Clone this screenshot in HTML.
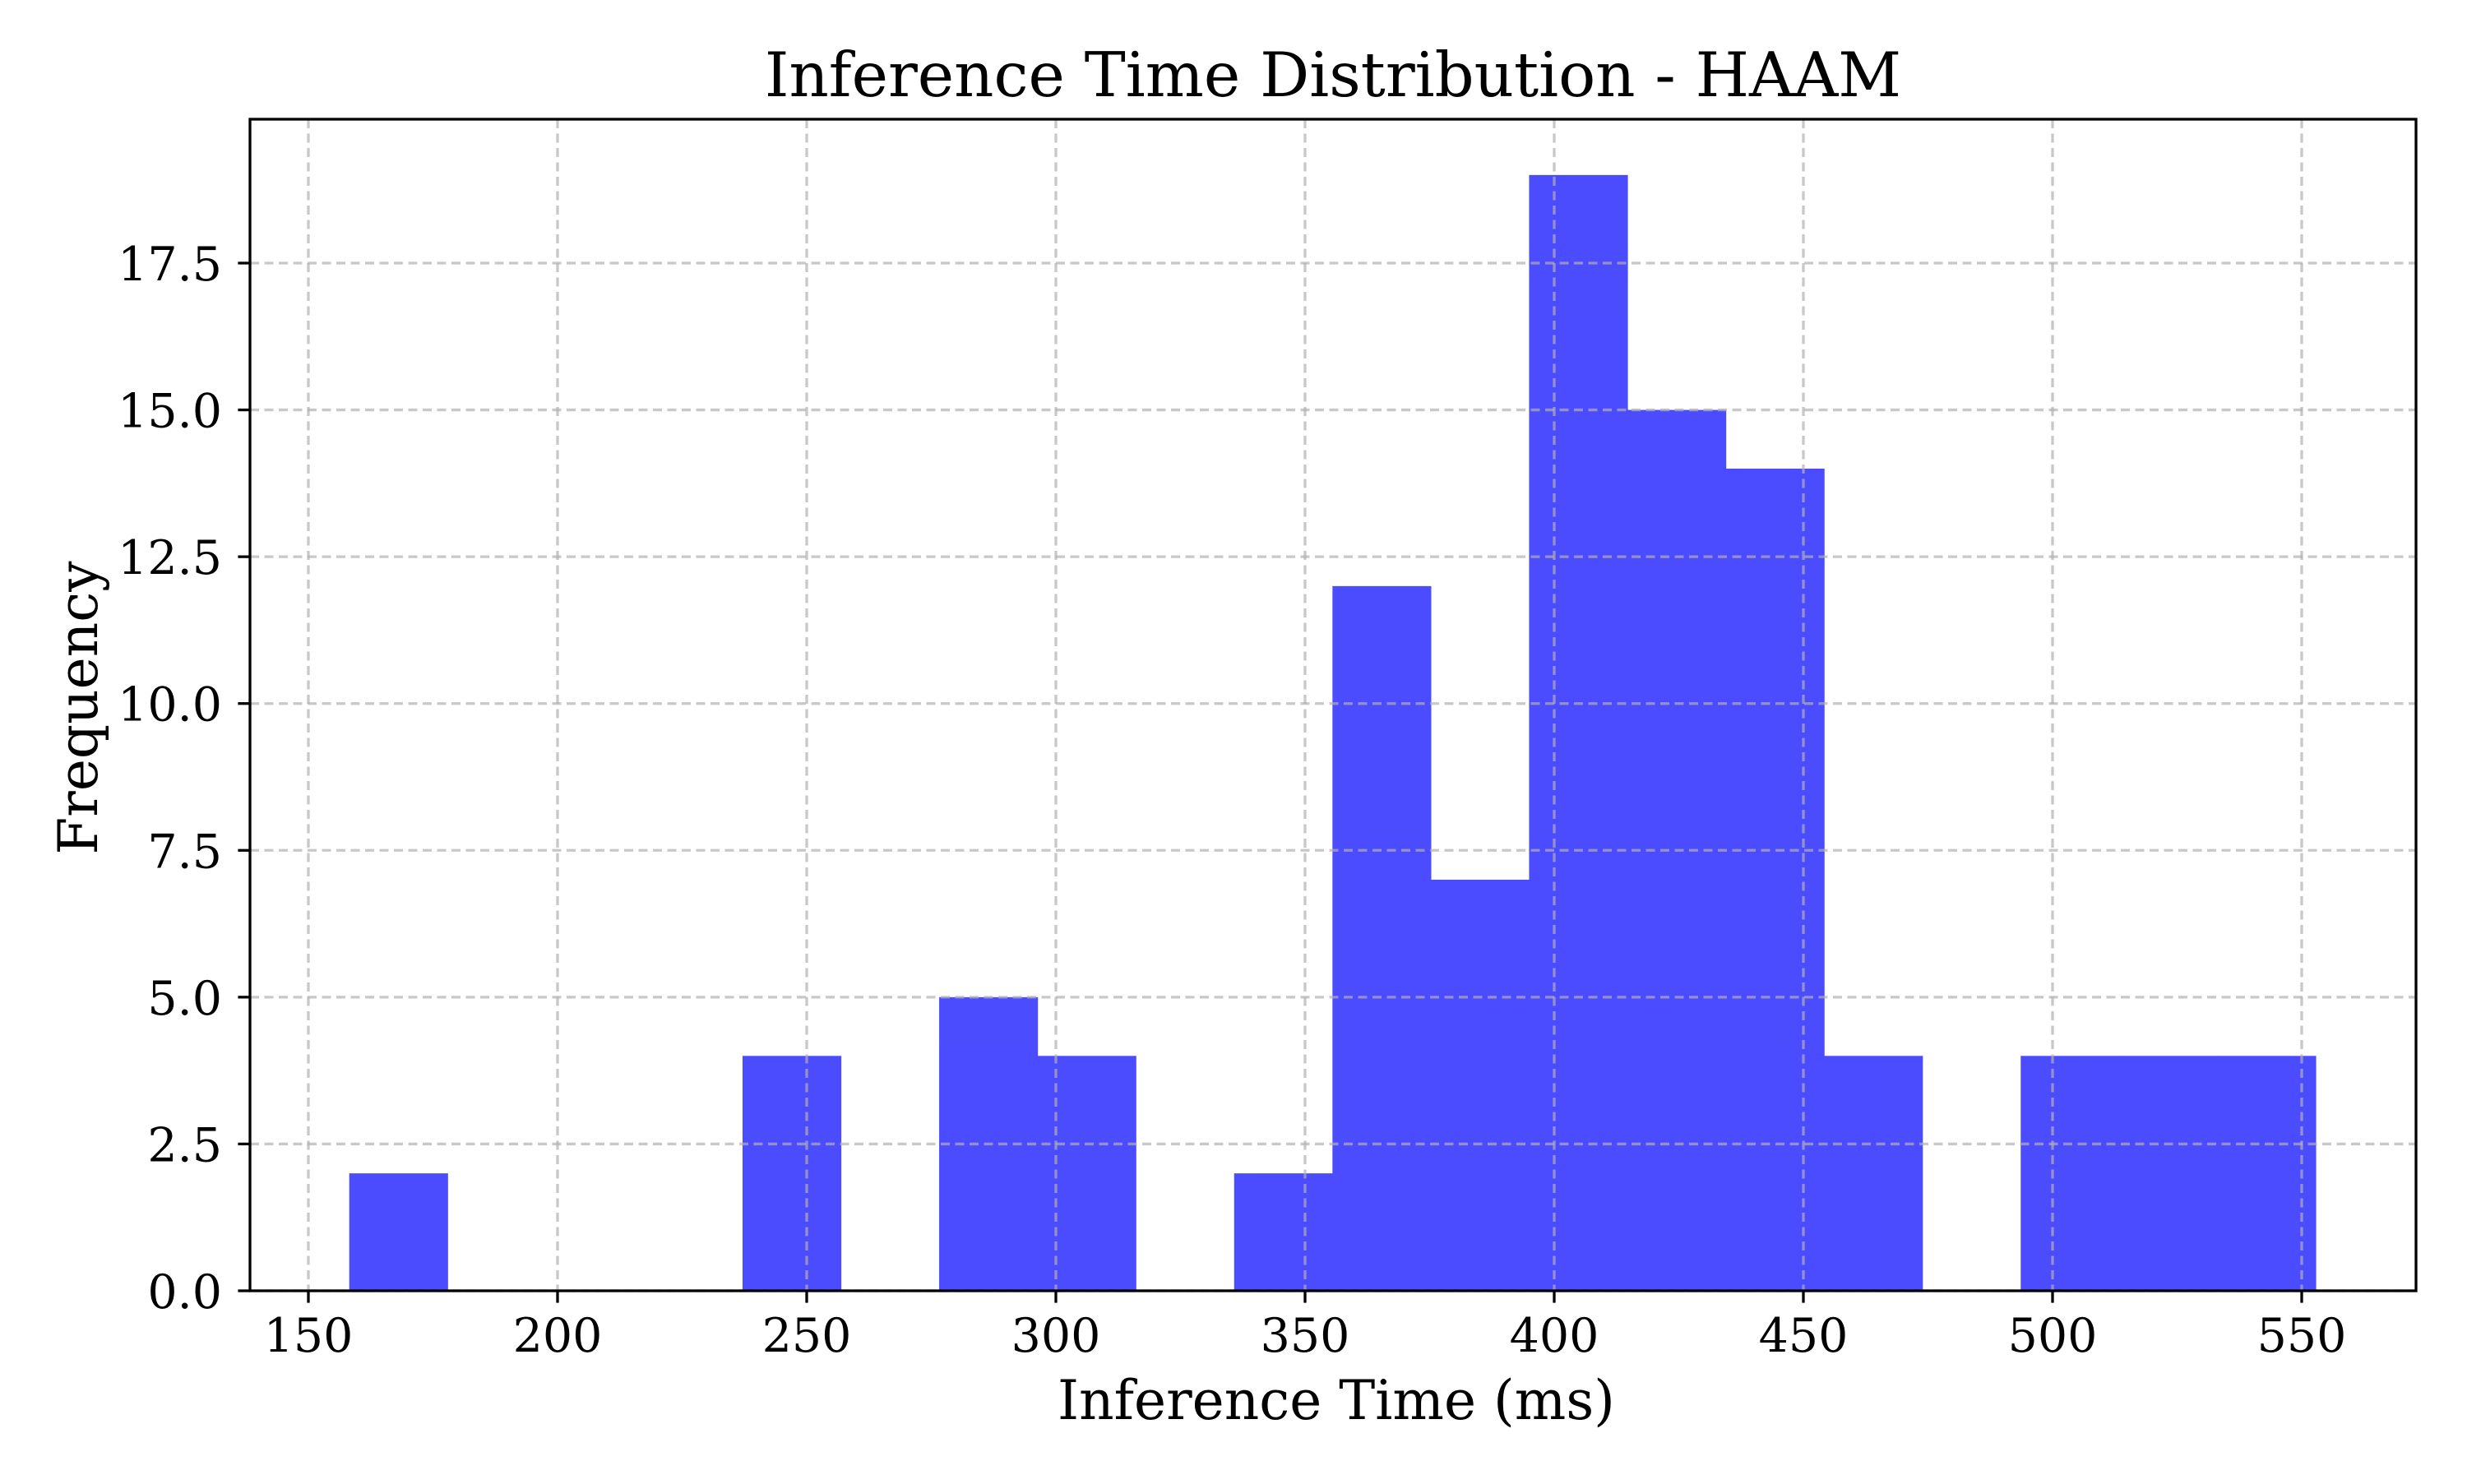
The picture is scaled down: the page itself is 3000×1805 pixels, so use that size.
<!DOCTYPE html>
<html><head><meta charset="utf-8"><style>
html,body{margin:0;padding:0;background:#fff;}
svg text{font-family:"DejaVu Serif","Liberation Serif",serif;fill:#000;}
</style></head><body>
<svg id="chart" width="3000" height="1800" viewBox="0 0 3000 1800" xmlns="http://www.w3.org/2000/svg">
<rect width="3000" height="1800" fill="#fff"/>
<g id="bars" opacity="0.7"></g>
<g id="grid"></g>
<g id="axes"></g>
<text x="1621" y="117" font-size="75" text-anchor="middle">Inference Time Distribution - HAAM</text>
<text x="1625" y="1726" font-size="66" text-anchor="middle">Inference Time (ms)</text>
<text transform="translate(118,861) rotate(-90)" font-size="66" text-anchor="middle">Frequency</text>
</svg>
<script>
const binStart = 158.2;
const binEnd = 552.8;
const counts = [2,0,0,0,4,0,5,4,0,2,12,7,19,15,14,4,0,4,4,4];
const xTicks = [150,200,250,300,350,400,450,500,550];
const yTicks = [0,2.5,5,7.5,10,12.5,15,17.5];
const yTickLabels = ["0.0","2.5","5.0","7.5","10.0","12.5","15.0","17.5"];

const L=304,R=2938,T=145,B=1570;
const yMax=19.95;
const sx=v=>375+(v-150)*(2799-375)/400;
const sy=v=>B-v/yMax*(B-T);
const NS="http://www.w3.org/2000/svg";
function mk(tag,attrs,parent){const e=document.createElementNS(NS,tag);for(const k in attrs)e.setAttribute(k,attrs[k]);parent.appendChild(e);return e;}
const grid=document.getElementById('grid'),bars=document.getElementById('bars'),axes=document.getElementById('axes');

xTicks.forEach(t=>{
  const l=mk('line',{x1:sx(t),x2:sx(t),y1:T,y2:B,stroke:'#b0b0b0','stroke-opacity':0.7,'stroke-width':3.3,'stroke-dasharray':'11 6.5'},grid);
  
  
});
yTicks.forEach(t=>{
  const l=mk('line',{x1:L,x2:R,y1:sy(t),y2:sy(t),stroke:'#b0b0b0','stroke-opacity':0.7,'stroke-width':3.3,'stroke-dasharray':'11 6.5'},grid);
  
  
});

const w=(binEnd-binStart)/counts.length;
counts.forEach((c,i)=>{
  if(c<=0)return;
  const x0=sx(binStart+i*w),x1=sx(binStart+(i+1)*w);
  const r=mk('rect',{x:x0,y:sy(c),width:x1-x0+0.6,height:sy(0)-sy(c),fill:'#0000ff'},bars);
  
  
});

const frame=mk('rect',{x:L,y:T,width:R-L,height:B-T,fill:'none',stroke:'#000','stroke-width':3.3},axes);



xTicks.forEach(t=>{
  const tk=mk('line',{x1:sx(t),x2:sx(t),y1:B,y2:B+14.6,stroke:'#000','stroke-width':3.3},axes);
  
  
  const tx=mk('text',{x:sx(t),y:1644,'font-size':57,'text-anchor':'middle'},axes);
  tx.textContent=String(t);
  
  
});
yTicks.forEach((t,i)=>{
  const tk=mk('line',{x1:L-14.6,x2:L,y1:sy(t),y2:sy(t),stroke:'#000','stroke-width':3.3},axes);
  
  
  const tx=mk('text',{x:L-34,y:sy(t)+21,'font-size':57,'text-anchor':'end'},axes);
  tx.textContent=yTickLabels[i];
  
  
});
</script>
</body></html>
